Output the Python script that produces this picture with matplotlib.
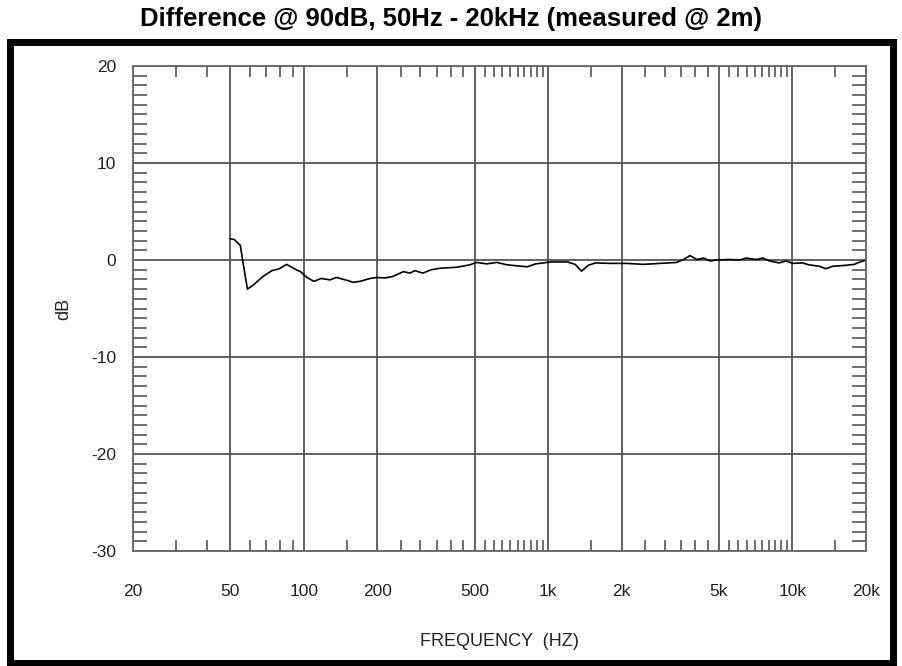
import matplotlib
matplotlib.use("Agg")
import matplotlib.pyplot as plt
from matplotlib.patches import Rectangle
from matplotlib.ticker import FixedLocator, NullFormatter

plt.rcParams['font.family'] = ['Liberation Sans', 'DejaVu Sans']
plt.rcParams['axes.unicode_minus'] = False

# measured response (Hz, dB)
freq = [50, 52, 55, 56.6, 58.8, 62, 68, 74, 79.5, 85, 93, 97, 103, 110, 118,
        128, 136, 148, 159, 170, 187, 199, 215, 231, 256, 272, 285, 307, 333,
        361, 422, 478, 509, 560, 617, 680, 747, 822, 889, 990, 1030, 1200,
        1290, 1370, 1460, 1560, 1790, 2100, 2450, 2870, 3360, 3580, 3810,
        4060, 4330, 4610, 4900, 5540, 6080, 6470, 7110, 7560, 8050, 8830,
        9400, 10000, 11000, 11700, 12900, 13700, 14600, 16500, 17900, 18700,
        20000]
db = [2.2, 2.1, 1.5, -0.5, -3.0, -2.6, -1.7, -1.1, -0.9, -0.45, -1.0, -1.2,
      -1.8, -2.2, -1.9, -2.05, -1.8, -2.05, -2.3, -2.2, -1.9, -1.8, -1.85,
      -1.7, -1.2, -1.35, -1.1, -1.35, -1.0, -0.85, -0.75, -0.5, -0.25, -0.4,
      -0.25, -0.5, -0.6, -0.7, -0.4, -0.25, -0.2, -0.2, -0.45, -1.15, -0.55,
      -0.3, -0.35, -0.35, -0.45, -0.35, -0.25, 0.05, 0.45, 0.05, 0.2, -0.1,
      0.0, 0.05, 0.0, 0.2, 0.05, 0.2, -0.1, -0.3, -0.1, -0.35, -0.3, -0.5,
      -0.65, -0.9, -0.65, -0.55, -0.45, -0.25, 0.0]

x_major = [20, 50, 100, 200, 500, 1000, 2000, 5000, 10000, 20000]
x_labels = ["20", "50", "100", "200", "500", "1k", "2k", "5k", "10k", "20k"]
x_minor = ([30, 40, 60, 70, 80, 90, 150, 250, 300, 350, 400, 450]
           + list(range(550, 1000, 50)) + [1500]
           + list(range(2500, 5000, 500)) + list(range(5500, 10000, 500))
           + [15000])
y_major = [-30, -20, -10, 0, 10, 20]

fig = plt.figure(figsize=(9.02, 6.66), dpi=100)
ax = fig.add_axes([133 / 902, 1 - 551 / 666, 733 / 902, 485 / 666])

ax.plot(freq, db, color='black', linewidth=1.2)

ax.set_xscale('log')
ax.set_xlim(20, 20000)
ax.set_ylim(-30, 20)
ax.xaxis.set_major_locator(FixedLocator(x_major))
ax.xaxis.set_minor_locator(FixedLocator(x_minor))
ax.xaxis.set_minor_formatter(NullFormatter())
ax.set_xticklabels(x_labels)
ax.set_yticks(y_major)
ax.yaxis.set_minor_locator(FixedLocator(range(-30, 21)))

grid_col = '#555555'
txt_col = '#222222'
ax.grid(True, which='major', color=grid_col, linewidth=1.3)
for s in ax.spines.values():
    s.set_color('#666666')
    s.set_linewidth(1.3)

ax.tick_params(axis='x', which='both', direction='in', top=True, bottom=True,
               color=grid_col, labelcolor=txt_col, labelsize=12.5, pad=24)
ax.tick_params(axis='x', which='minor', length=8, width=1.2)
ax.tick_params(axis='x', which='major', length=0)
ax.tick_params(axis='y', which='both', direction='in', left=True, right=True,
               color=grid_col, labelcolor=txt_col, labelsize=12.5, pad=12)
ax.tick_params(axis='y', which='minor', length=10, width=1.2)
ax.tick_params(axis='y', which='major', length=0)

ax.set_xlabel("FREQUENCY  (HZ)", fontsize=13, color=txt_col, labelpad=24)
ax.set_ylabel("dB", fontsize=13, color=txt_col, labelpad=14)

fig.text(0.5, 1 - 19 / 666, "Difference @ 90dB, 50Hz - 20kHz (measured @ 2m)",
         ha='center', va='center', fontsize=18.5, fontweight='bold')

fig.patches.append(Rectangle((9.5 / 902, 1 - 662.5 / 666), 883 / 902,
                             621 / 666, transform=fig.transFigure,
                             fill=False, edgecolor='black', linewidth=5))

fig.savefig("out.png", dpi=100)
